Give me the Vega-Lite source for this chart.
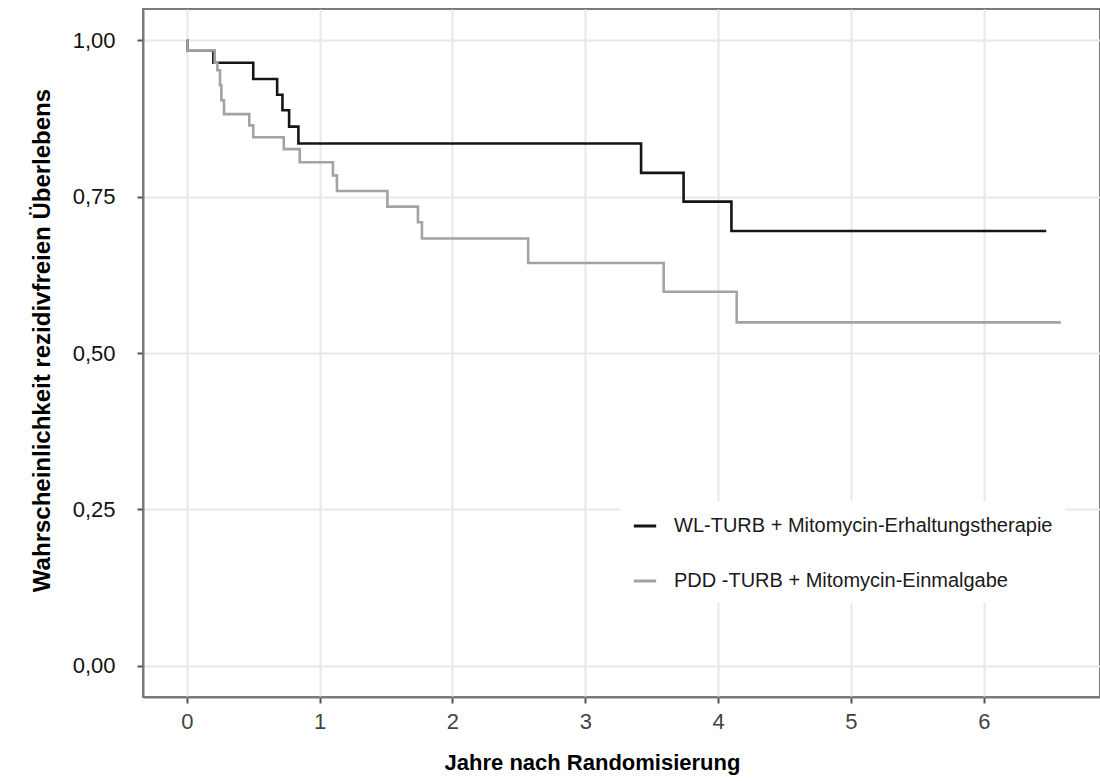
{
  "$schema": "https://vega.github.io/schema/vega-lite/v6.json",
  "autosize": "none",
  "padding": {"left": 143, "top": 9, "right": 0, "bottom": 84},
  "width": 957,
  "height": 688,
  "background": "white",
  "data": {
    "values": [
      {"t": 0, "s": 1.0, "g": "WL-TURB + Mitomycin-Erhaltungstherapie"},
      {"t": 0.005, "s": 0.984, "g": "WL-TURB + Mitomycin-Erhaltungstherapie"},
      {"t": 0.20, "s": 0.964, "g": "WL-TURB + Mitomycin-Erhaltungstherapie"},
      {"t": 0.50, "s": 0.938, "g": "WL-TURB + Mitomycin-Erhaltungstherapie"},
      {"t": 0.68, "s": 0.913, "g": "WL-TURB + Mitomycin-Erhaltungstherapie"},
      {"t": 0.72, "s": 0.888, "g": "WL-TURB + Mitomycin-Erhaltungstherapie"},
      {"t": 0.77, "s": 0.862, "g": "WL-TURB + Mitomycin-Erhaltungstherapie"},
      {"t": 0.84, "s": 0.835, "g": "WL-TURB + Mitomycin-Erhaltungstherapie"},
      {"t": 3.42, "s": 0.788, "g": "WL-TURB + Mitomycin-Erhaltungstherapie"},
      {"t": 3.74, "s": 0.742, "g": "WL-TURB + Mitomycin-Erhaltungstherapie"},
      {"t": 4.10, "s": 0.695, "g": "WL-TURB + Mitomycin-Erhaltungstherapie"},
      {"t": 6.47, "s": 0.695, "g": "WL-TURB + Mitomycin-Erhaltungstherapie"},
      {"t": 0, "s": 1.0, "g": "PDD -TURB + Mitomycin-Einmalgabe"},
      {"t": 0.005, "s": 0.984, "g": "PDD -TURB + Mitomycin-Einmalgabe"},
      {"t": 0.21, "s": 0.964, "g": "PDD -TURB + Mitomycin-Einmalgabe"},
      {"t": 0.23, "s": 0.952, "g": "PDD -TURB + Mitomycin-Einmalgabe"},
      {"t": 0.25, "s": 0.928, "g": "PDD -TURB + Mitomycin-Einmalgabe"},
      {"t": 0.26, "s": 0.904, "g": "PDD -TURB + Mitomycin-Einmalgabe"},
      {"t": 0.28, "s": 0.882, "g": "PDD -TURB + Mitomycin-Einmalgabe"},
      {"t": 0.47, "s": 0.864, "g": "PDD -TURB + Mitomycin-Einmalgabe"},
      {"t": 0.50, "s": 0.845, "g": "PDD -TURB + Mitomycin-Einmalgabe"},
      {"t": 0.73, "s": 0.826, "g": "PDD -TURB + Mitomycin-Einmalgabe"},
      {"t": 0.85, "s": 0.805, "g": "PDD -TURB + Mitomycin-Einmalgabe"},
      {"t": 1.10, "s": 0.784, "g": "PDD -TURB + Mitomycin-Einmalgabe"},
      {"t": 1.13, "s": 0.759, "g": "PDD -TURB + Mitomycin-Einmalgabe"},
      {"t": 1.51, "s": 0.734, "g": "PDD -TURB + Mitomycin-Einmalgabe"},
      {"t": 1.74, "s": 0.709, "g": "PDD -TURB + Mitomycin-Einmalgabe"},
      {"t": 1.77, "s": 0.683, "g": "PDD -TURB + Mitomycin-Einmalgabe"},
      {"t": 2.57, "s": 0.644, "g": "PDD -TURB + Mitomycin-Einmalgabe"},
      {"t": 3.59, "s": 0.598, "g": "PDD -TURB + Mitomycin-Einmalgabe"},
      {"t": 4.14, "s": 0.549, "g": "PDD -TURB + Mitomycin-Einmalgabe"},
      {"t": 6.58, "s": 0.549, "g": "PDD -TURB + Mitomycin-Einmalgabe"}
    ]
  },
  "mark": {"type": "line", "interpolate": "step-after", "strokeWidth": 2.6},
  "encoding": {
    "x": {
      "field": "t", "type": "quantitative",
      "scale": {"domain": [-0.33, 6.875], "nice": false, "zero": false},
      "axis": {
        "title": "Jahre nach Randomisierung",
        "values": [0, 1, 2, 3, 4, 5, 6],
        "format": "d",
        "titleX": 449,
        "titlePadding": 20,
        "titleFontSize": 22,
        "labelPadding": 8,
        "labelColor": "#444444"
      }
    },
    "y": {
      "field": "s", "type": "quantitative",
      "scale": {"domain": [-0.05, 1.05], "nice": false, "zero": false},
      "axis": {
        "title": "Wahrscheinlichkeit rezidivfreien Überlebens",
        "values": [0, 0.25, 0.5, 0.75, 1],
        "labelExpr": "replace(format(datum.value, '.2f'), '.', ',')",
        "labelPadding": 22,
        "titlePadding": 18,
        "titleY": 331,
        "titleFontSize": 24,
        "labelColor": "#111111"
      }
    },
    "color": {
      "field": "g", "type": "nominal",
      "scale": {
        "domain": ["WL-TURB + Mitomycin-Erhaltungstherapie", "PDD -TURB + Mitomycin-Einmalgabe"],
        "range": ["#151515", "#a3a3a3"]
      },
      "legend": {
        "title": null,
        "orient": "none",
        "legendX": 477,
        "legendY": 492,
        "padding": 12,
        "fillColor": "white",
        "symbolType": "stroke",
        "symbolSize": 500,
        "symbolStrokeWidth": 3,
        "labelFontSize": 20,
        "labelLimit": 600,
        "labelFont": "Liberation Sans",
        "labelColor": "#1a1a1a",
        "labelOffset": 16,
        "rowPadding": 32
      }
    }
  },
  "config": {
    "font": "Liberation Sans",
    "view": {"stroke": "#7a7a7a", "strokeWidth": 2},
    "axis": {
      "domainColor": "#7a7a7a",
      "domainWidth": 2,
      "gridColor": "#e8e8e8",
      "gridWidth": 2,
      "tickColor": "#555555",
      "tickWidth": 2,
      "tickSize": 6,
      "labelFont": "Liberation Sans",
      "labelFontSize": 22,
      "titleFont": "Liberation Sans",
      "titleFontWeight": "bold",
      "titleColor": "#000000"
    }
  }
}
